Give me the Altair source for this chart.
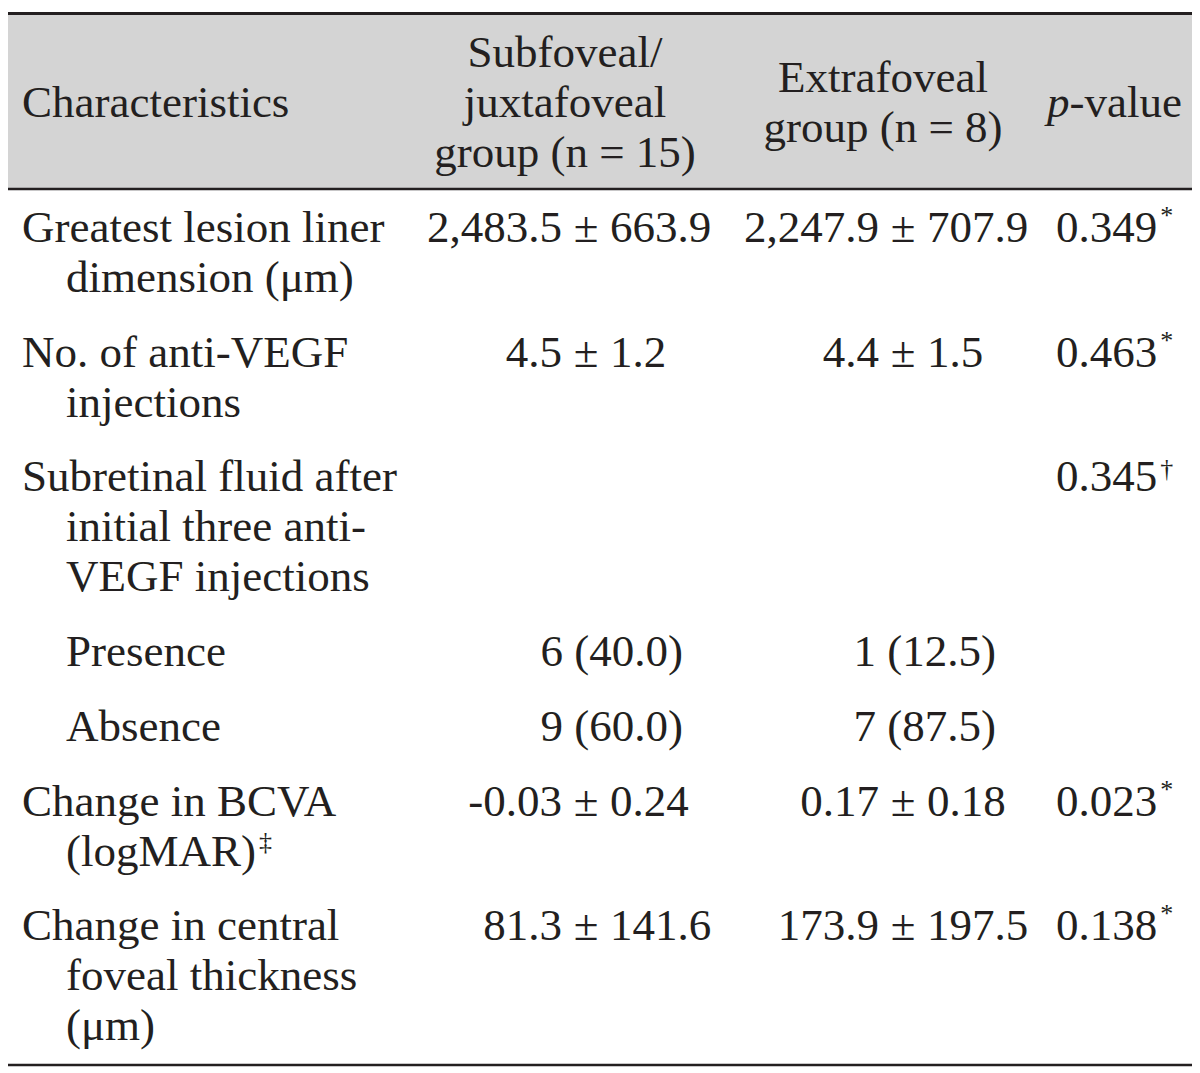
import altair as alt
import pandas as pd

# ------------------------------------------------------------------ data
header_label = "Characteristics"
header_group1 = ["Subfoveal/", "juxtafoveal", "group (n = 15)"]
header_group2 = ["Extrafoveal", "group (n = 8)"]
header_p_italic = "p"
header_p_rest = "-value"

characteristics = [
    ["Greatest lesion liner", "dimension (μm)"],
    ["No. of anti-VEGF", "injections"],
    ["Subretinal fluid after", "initial three anti-", "VEGF injections"],
    ["Presence"],
    ["Absence"],
    ["Change in BCVA", "(logMAR)"],
    ["Change in central", "foveal thickness", "(μm)"],
]
sub_level = [False, False, False, True, True, False, False]
label_marks = ["", "", "", "", "", "‡", ""]
subfoveal = ["2,483.5 ± 663.9", "4.5 ± 1.2", "", "6 (40.0)", "9 (60.0)", "-0.03 ± 0.24", "81.3 ± 141.6"]
extrafoveal = ["2,247.9 ± 707.9", "4.4 ± 1.5", "", "1 (12.5)", "7 (87.5)", "0.17 ± 0.18", "173.9 ± 197.5"]
p_values = ["0.349", "0.463", "0.345", "", "", "0.023", "0.138"]
p_marks = ["*", "*", "†", "", "", "*", "*"]

# ------------------------------------------------------------------ layout
W, H = 1184, 1060
FONT = "Liberation Serif"
FS = 45
SUP_FS = 26
INK = "#231f20"
HEAD_BG = "#d4d4d4"

X = dict(label=14, indent=58, g1pm=578, g1n=675, g2pm=895, g2n=988, p=1048,
         g1h=557, g2h=875, ph=1039)
HEAD_BASE = 109
HEAD_LH = 50
BODY_Y0 = 234
BODY_LH = 50
ROW_STEP = 74.7
PM_GAP = 24

# Times-like advance widths (per 1000 em) for superscript placement
ADV = {**{d: 500 for d in "0123456789"}, ".": 250, "(": 333, ")": 333, "l": 278,
       "o": 500, "g": 500, "M": 889, "A": 722, "R": 667}


def text_width(s):
    return sum(ADV.get(c, 500) for c in s) * FS / 1000.0


xs = alt.Scale(domain=[0, W], range=[0, W], nice=False, zero=False)
ys = alt.Scale(domain=[0, H], range=[0, H], nice=False, zero=False)

# ------------------------------------------------------------------ build tables
rows = []  # generic text records


def add(text, x, y, align="left", italic=False, size=FS, dx=0, dy=0):
    rows.append(dict(text=text, x=x, y=y, align=align,
                     style="italic" if italic else "normal", size=size, dx=dx, dy=dy))


# header
add(header_label, X["label"], HEAD_BASE)
for i, t in enumerate(header_group1):
    add(t, X["g1h"], HEAD_BASE + (i - 1) * HEAD_LH, align="center")
for i, t in enumerate(header_group2):
    add(t, X["g2h"], HEAD_BASE + (i - 0.5) * HEAD_LH, align="center")
add(header_p_italic, X["ph"], HEAD_BASE, italic=True)
add(header_p_rest, X["ph"], HEAD_BASE, dx=FS * 0.5)

# body
y = BODY_Y0
for r, lines in enumerate(characteristics):
    first_y = y
    for j, t in enumerate(lines):
        xk = "indent" if (j > 0 or sub_level[r]) else "label"
        add(t, X[xk], y)
        if j == len(lines) - 1 and label_marks[r]:
            add(label_marks[r], X[xk], y, size=SUP_FS, dx=text_width(t) + 3, dy=-16)
        if j < len(lines) - 1:
            y += BODY_LH
    for val, pm_key, n_key in ((subfoveal[r], "g1pm", "g1n"), (extrafoveal[r], "g2pm", "g2n")):
        if not val:
            continue
        if "±" in val:
            left, right = [s.strip() for s in val.split("±")]
            add(left, X[pm_key], first_y, align="right", dx=-PM_GAP)
            add("±", X[pm_key], first_y, align="center")
            add(right, X[pm_key], first_y, align="left", dx=PM_GAP)
        else:
            add(val, X[n_key], first_y, align="right")
    if p_values[r]:
        add(p_values[r], X["p"], first_y)
        add(p_marks[r], X["p"], first_y, size=SUP_FS, dx=text_width(p_values[r]) + 3,
            dy=-18 if p_marks[r] == "*" else -14)
    y += ROW_STEP

df = pd.DataFrame(rows)

layers = []
for (align, style, size, dx, dy), g in df.groupby(["align", "style", "size", "dx", "dy"]):
    layers.append(
        alt.Chart(g).mark_text(align=align, baseline="alphabetic", font=FONT, fontSize=size,
                               fontStyle=style, color=INK, dx=dx, dy=dy)
        .encode(x=alt.X("x:Q", scale=xs, axis=None),
                y=alt.Y("y:Q", scale=ys, axis=None),
                text="text:N")
    )

bg = pd.DataFrame([dict(x=0, x2=W, y=7, y2=180)])
bg_layer = alt.Chart(bg).mark_rect(color=HEAD_BG).encode(
    x=alt.X("x:Q", scale=xs, axis=None), x2="x2",
    y=alt.Y("y:Q", scale=ys, axis=None), y2="y2")

rules = pd.DataFrame([
    dict(x=0, x2=W, y=5.5, w=3),
    dict(x=0, x2=W, y=181, w=2.5),
    dict(x=0, x2=W, y=1057, w=2.5),
])
rule_layers = [
    alt.Chart(rules[rules.w == w]).mark_rule(color=INK, strokeWidth=w).encode(
        x=alt.X("x:Q", scale=xs, axis=None), x2="x2",
        y=alt.Y("y:Q", scale=ys, axis=None))
    for w in sorted(rules.w.unique())
]

chart = alt.layer(bg_layer, *rule_layers, *layers).properties(
    width=W, height=H, autosize=alt.AutoSizeParams(type="none"), padding=0,
    background="white"
).configure_view(stroke=None)

chart.save("out.html", embed_options={"renderer": "svg", "actions": False})
